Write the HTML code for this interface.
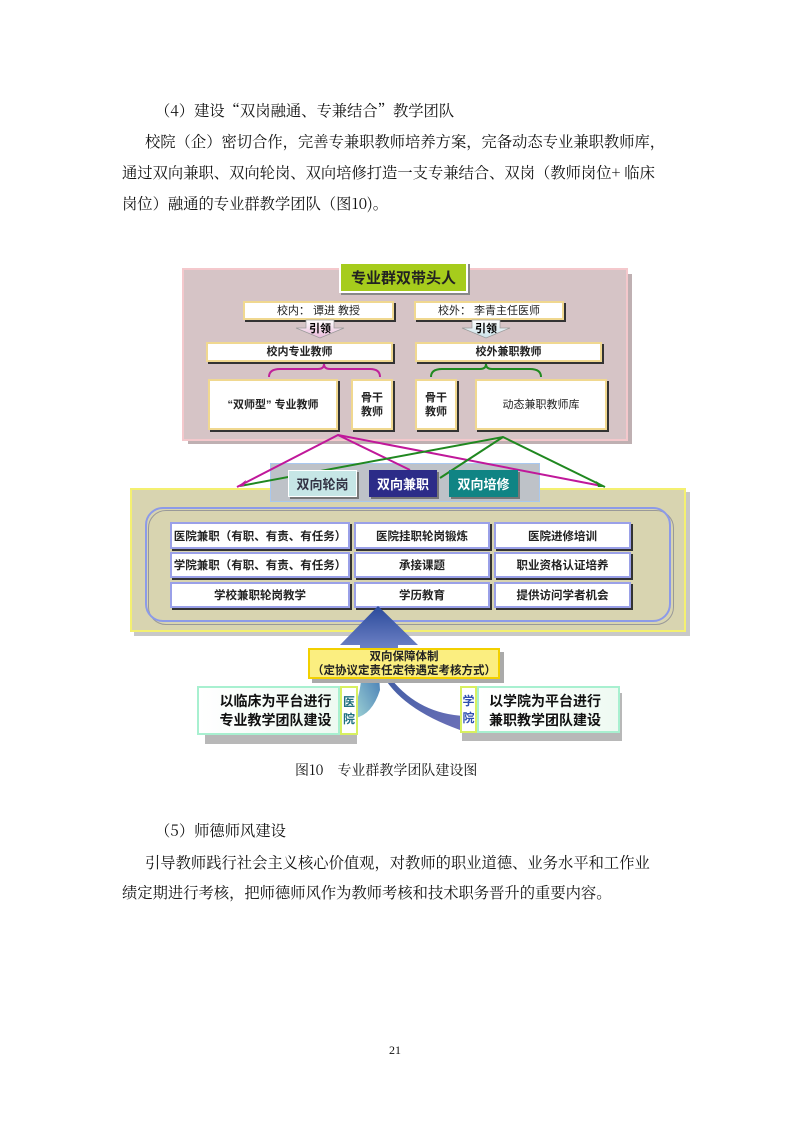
<!DOCTYPE html>
<html><head><meta charset="utf-8"><style>
body{margin:0;background:#fff;}
#p{position:relative;width:793px;height:1122px;overflow:hidden;font-family:"Noto Serif CJK SC","Liberation Serif",serif;color:#111;}
.t{position:absolute;font-size:15.3px;white-space:nowrap;line-height:18px;}
.a{position:absolute;box-sizing:border-box;}
.b{position:absolute;box-sizing:border-box;background:#fff;border:2px solid #f0d890;box-shadow:2px 2px 0 #333;font-family:"Liberation Sans","Noto Sans CJK SC",sans-serif;font-weight:bold;font-size:11px;display:flex;align-items:center;justify-content:center;text-align:center;color:#222;line-height:14px;}
.g{position:absolute;box-sizing:border-box;background:#fff;border:2px solid #9aa0e8;box-shadow:2px 2px 0 #333;font-family:"Liberation Sans","Noto Sans CJK SC",sans-serif;font-weight:bold;font-size:11.5px;display:flex;align-items:center;justify-content:center;color:#222;white-space:nowrap;}
.tab{position:absolute;box-sizing:border-box;font-family:"Liberation Sans","Noto Sans CJK SC",sans-serif;font-weight:bold;font-size:13px;display:flex;align-items:center;justify-content:center;box-shadow:2px 2px 0 #777;}
</style></head><body><div id="p">
<div class="t" style="left:155px;top:101px">（4）建设“双岗融通、专兼结合”教学团队</div>
<div class="t" style="left:145px;top:132px">校院（企）密切合作，完善专兼职教师培养方案，完备动态专业兼职教师库，</div>
<div class="t" style="left:122px;top:163px">通过双向兼职、双向轮岗、双向培修打造一支专兼结合、双岗（教师岗位+ 临床</div>
<div class="t" style="left:122px;top:194px">岗位）融通的专业群教学团队（图10)。</div>

<div class="a" style="left:188px;top:274px;width:444px;height:170px;background:#bfb0b2"></div>
<div class="a" style="left:182px;top:268px;width:446px;height:173px;background:#d6c4c6;border:2px solid #f4c8cc"></div>
<div class="tab" style="left:339px;top:262px;width:129px;height:31px;background:#a6cc1c;border:2px solid #fff;color:#222;font-size:15px;box-shadow:2px 2px 0 #888">专业群双带头人</div>
<div class="b" style="left:243px;top:301px;width:151px;height:19px;font-weight:normal">校内： 谭进 教授</div>
<div class="b" style="left:414px;top:301px;width:150px;height:19px;font-weight:normal">校外： 李青主任医师</div>
<svg class="a" style="left:0;top:0" width="793" height="1122">
<defs><linearGradient id="ar1" x1="0" y1="0" x2="0" y2="1"><stop offset="0" stop-color="#fff"/><stop offset="1" stop-color="#e8b8d8"/></linearGradient>
<linearGradient id="ar2" x1="0" y1="0" x2="0" y2="1"><stop offset="0" stop-color="#fff"/><stop offset="1" stop-color="#c8e0e8"/></linearGradient>
<linearGradient id="up" x1="0" y1="0" x2="0" y2="1"><stop offset="0" stop-color="#2a4a9a"/><stop offset="1" stop-color="#8090d0"/></linearGradient></defs>
<polygon points="306,320 334,320 334,328 344,328 320,338 296,328 306,328" fill="url(#ar1)" stroke="#999" stroke-width="0.7"/>
<polygon points="472,320 500,320 500,328 510,328 486,338 462,328 472,328" fill="url(#ar2)" stroke="#999" stroke-width="0.7"/>
<text x="320" y="332" font-size="11" font-weight="bold" text-anchor="middle" font-family="Liberation Sans,Noto Sans CJK SC,sans-serif">引领</text>
<text x="486" y="332" font-size="11" font-weight="bold" text-anchor="middle" font-family="Liberation Sans,Noto Sans CJK SC,sans-serif">引领</text>
<path d="M269,377 Q269,369 280,369 L318,369 Q324,369 324,364 Q324,369 330,369 L370,369 Q380,369 380,377" fill="none" stroke="#c0209a" stroke-width="2"/>
<path d="M431,377 Q431,369 442,369 L480,369 Q486,369 486,364 Q486,369 492,369 L530,369 Q541,369 541,377" fill="none" stroke="#208a20" stroke-width="2"/>
</svg>
<div class="b" style="left:206px;top:342px;width:187px;height:20px">校内专业教师</div>
<div class="b" style="left:415px;top:342px;width:187px;height:20px">校外兼职教师</div>
<div class="b" style="left:208px;top:379px;width:130px;height:51px">“双师型” 专业教师</div>
<div class="b" style="left:351px;top:379px;width:42px;height:51px">骨干<br>教师</div>
<div class="b" style="left:415px;top:379px;width:42px;height:51px">骨干<br>教师</div>
<div class="b" style="left:475px;top:379px;width:132px;height:51px;font-weight:normal">动态兼职教师库</div>

<div class="a" style="left:134px;top:492px;width:556px;height:144px;background:#c8c8c8"></div>
<div class="a" style="left:130px;top:488px;width:556px;height:144px;background:#d8d4b0;border:2px solid #f4f070"></div>
<div class="a" style="left:148px;top:510px;width:526px;height:115px;border:1.5px solid #999;border-radius:18px"></div>
<div class="a" style="left:145px;top:507px;width:526px;height:115px;border:2px solid #8c9ae8;border-radius:18px"></div>
<div class="a" style="left:270px;top:463px;width:270px;height:39px;background:#bec2c8;border:1.5px solid #a8c8f0"></div>
<svg class="a" style="left:0;top:0" width="793" height="1122">
<g stroke-width="2" fill="none">
<polyline points="237,487 338,435 410,470" stroke="#c0189a"/>
<line x1="338" y1="435" x2="602" y2="486" stroke="#c0189a"/>
<polyline points="240,486 503,437 605,487" stroke="#208820"/>
<line x1="503" y1="437" x2="440" y2="478" stroke="#208820"/>
</g>
<polygon points="237,487 246,480 244,486" fill="#c0189a"/><polygon points="605,487 596,481 598,487" fill="#208820"/>
</svg>
<div class="tab" style="left:288px;top:470px;width:69px;height:27px;background:#c6e6e6;border:1px solid #fff;color:#334">双向轮岗</div>
<div class="tab" style="left:369px;top:470px;width:68px;height:27px;background:#2c2c88;color:#fff">双向兼职</div>
<div class="tab" style="left:449px;top:470px;width:69px;height:27px;background:#108484;color:#fff">双向培修</div>

<div class="g" style="left:170px;top:522px;width:180px;height:27px">医院兼职（有职、有责、有任务）</div>
<div class="g" style="left:354px;top:522px;width:136px;height:27px">医院挂职轮岗锻炼</div>
<div class="g" style="left:494px;top:522px;width:137px;height:27px">医院进修培训</div>
<div class="g" style="left:170px;top:552px;width:180px;height:26px">学院兼职（有职、有责、有任务）</div>
<div class="g" style="left:354px;top:552px;width:136px;height:26px">承接课题</div>
<div class="g" style="left:494px;top:552px;width:137px;height:26px">职业资格认证培养</div>
<div class="g" style="left:170px;top:582px;width:180px;height:26px">学校兼职轮岗教学</div>
<div class="g" style="left:354px;top:582px;width:136px;height:26px">学历教育</div>
<div class="g" style="left:494px;top:582px;width:137px;height:26px">提供访问学者机会</div>

<svg class="a" style="left:0;top:0" width="793" height="1122">
<defs><linearGradient id="lc" x1="0" y1="1" x2="1" y2="0"><stop offset="0" stop-color="#a8dcd8"/><stop offset="1" stop-color="#3a70b0"/></linearGradient>
<linearGradient id="rc" x1="1" y1="1" x2="0" y2="0"><stop offset="0" stop-color="#6c70b8"/><stop offset="1" stop-color="#3a5aa0"/></linearGradient></defs>
<polygon points="378,606 418,645 398,645 398,660 360,660 360,645 340,645" fill="url(#up)"/>
<path d="M355,718 Q372,715 380,690 L378,660 L362,660 Q362,700 350,712 Z" fill="url(#lc)"/>
<path d="M465,716 Q420,714 392,680 L392,660 L376,660 Q390,705 460,730 Z" fill="url(#rc)"/>
</svg>
<div class="a" style="left:312px;top:652px;width:192px;height:31px;background:#aaa"></div>
<div class="b" style="left:308px;top:648px;width:192px;height:31px;background:#fbee80;border-color:#f2d000;box-shadow:none;font-size:11.5px;line-height:14px">双向保障体制<br>（定协议定责任定待遇定考核方式）</div>
<div class="a" style="left:205px;top:694px;width:152px;height:50px;background:#b8b8b8"></div>
<div class="a" style="left:197px;top:686px;width:143px;height:49px;background:linear-gradient(90deg,#fff,#eefaf2);border:2px solid #a8f0d0;display:flex;align-items:center;justify-content:center;text-align:center;font-size:14px;font-weight:bold;line-height:19px;font-family:'Liberation Sans','Noto Sans CJK SC',sans-serif;padding-left:14px">以临床为平台进行<br>专业教学团队建设</div>
<div class="a" style="left:340px;top:686px;width:18px;height:49px;background:#fff;border:2px solid #d8f060;font-size:12px;font-weight:bold;color:#207080;line-height:17px;text-align:center;padding-top:6px;font-family:'Liberation Sans','Noto Sans CJK SC',sans-serif">医<br>院</div>
<div class="a" style="left:462px;top:693px;width:160px;height:48px;background:#b8b8b8"></div>
<div class="a" style="left:460px;top:686px;width:17px;height:47px;background:#fff;border:2px solid #d8f060;font-size:12px;font-weight:bold;color:#3050b0;line-height:17px;text-align:center;padding-top:5px;font-family:'Liberation Sans','Noto Sans CJK SC',sans-serif">学<br>院</div>
<div class="a" style="left:477px;top:686px;width:143px;height:47px;background:linear-gradient(90deg,#fff,#eefaf2);border:2px solid #a8f0d0;font-size:14px;font-weight:bold;line-height:19px;font-family:'Liberation Sans','Noto Sans CJK SC',sans-serif;padding:4px 0 0 10px;white-space:nowrap">以学院为平台进行<br>兼职教学团队建设</div>

<div class="t" style="left:295px;top:761px;font-size:14px">图10　专业群教学团队建设图</div>

<div class="t" style="left:155px;top:821px">（5）师德师风建设</div>
<div class="t" style="left:145px;top:853px">引导教师践行社会主义核心价值观，对教师的职业道德、业务水平和工作业</div>
<div class="t" style="left:122px;top:883px">绩定期进行考核，把师德师风作为教师考核和技术职务晋升的重要内容。</div>
<div class="t" style="left:389px;top:1041px;font-size:12px;font-family:'Liberation Serif',serif">21</div>
</div></body></html>
